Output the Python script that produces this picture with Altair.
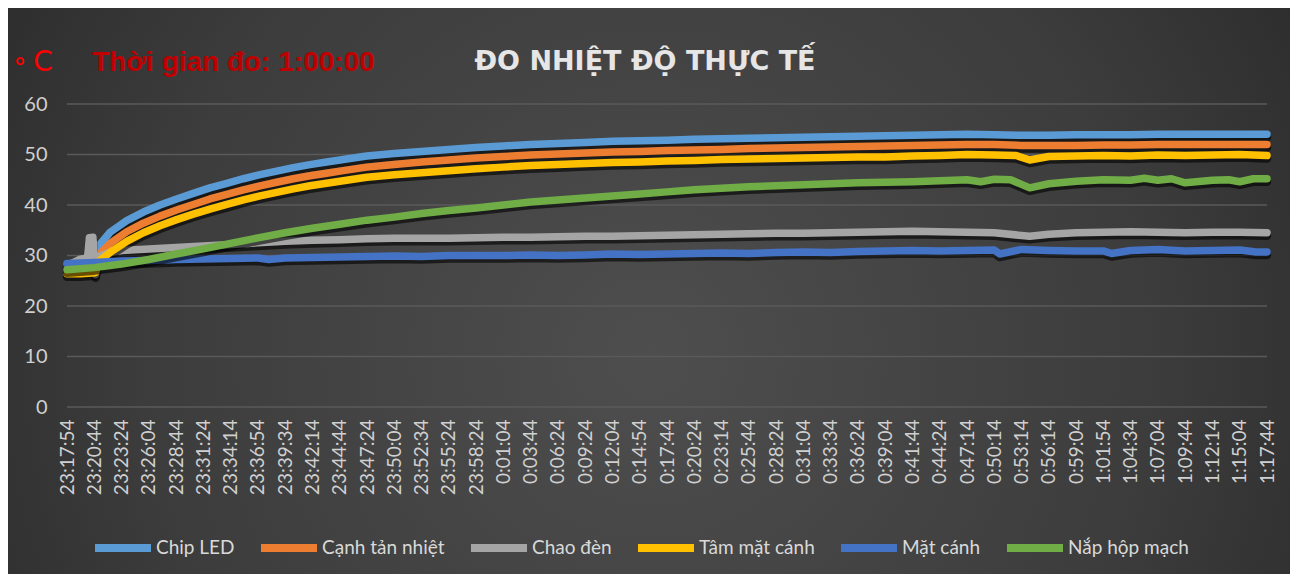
import altair as alt
import pandas as pd

TIME_LABELS = [
    "23:17:54", "23:20:44", "23:23:24", "23:26:04", "23:28:44", "23:31:24", "23:34:14",
    "23:36:54", "23:39:34", "23:42:14", "23:44:44", "23:47:24", "23:50:04", "23:52:34",
    "23:55:24", "23:58:24", "0:01:04", "0:03:44", "0:06:24", "0:09:24", "0:12:04",
    "0:14:54", "0:17:44", "0:20:24", "0:23:14", "0:25:44", "0:28:24", "0:31:04",
    "0:33:34", "0:36:24", "0:39:04", "0:41:44", "0:44:24", "0:47:14", "0:50:14",
    "0:53:14", "0:56:14", "0:59:04", "1:01:54", "1:04:34", "1:07:04", "1:09:44",
    "1:12:14", "1:15:04", "1:17:44",
]
Y_TICKS = [0, 10, 20, 30, 40, 50, 60]

SERIES = ["Chip LED", "Cạnh tản nhiệt", "Chao đèn", "Tâm mặt cánh", "Mặt cánh", "Nắp hộp mạch"]
COLORS = ["#5B9BD5", "#ED7D31", "#A5A5A5", "#FFC000", "#4472C4", "#70AD47"]

TAIL_X = list(range(11, 45))

chip_x = [0, 1, 1.15, 1.27, 1.58, 2.19, 2.8, 3.41, 4.02, 4.63, 5.24, 5.86, 6.47, 7.08,
          7.69, 8.3, 8.91, 9.52, 10.13, 10.74] + TAIL_X
chip_y = [27.8, 27.8, 31.8, 32.6, 34.6, 36.9, 38.6, 40.0, 41.2, 42.3, 43.4, 44.3, 45.2, 46.0,
          46.7, 47.4, 48.0, 48.5, 49.0, 49.5,
          49.7, 50.2, 50.6, 51.0, 51.4, 51.7, 52.0, 52.2, 52.4, 52.6, 52.7, 52.8, 53.0, 53.1,
          53.2, 53.3, 53.4, 53.5, 53.6, 53.7, 53.8, 53.9, 54.0, 53.9, 53.8, 53.8, 53.9, 53.9,
          53.9, 54.0, 54.0, 54.0, 54.0, 54.0]

canh_x = [0, 1, 1.2, 1.58, 2.19, 2.8, 3.41, 4.02, 4.63, 5.24, 5.86, 6.47, 7.08,
          7.69, 8.3, 8.91, 9.52, 10.13, 10.74] + TAIL_X
canh_y = [27.3, 27.3, 30.3, 32.4, 34.7, 36.4, 37.8, 39.0, 40.1, 41.2, 42.1, 43.0, 43.8,
          44.5, 45.2, 45.8, 46.3, 46.8, 47.3,
          47.5, 48.0, 48.5, 48.9, 49.3, 49.6, 49.9, 50.1, 50.3, 50.5, 50.6, 50.8, 50.9, 51.0,
          51.2, 51.3, 51.4, 51.5, 51.6, 51.7, 51.8, 51.9, 52.0, 52.0, 51.8, 51.8, 51.8, 51.9,
          51.9, 52.0, 52.0, 52.0, 52.0, 52.0]

chao_x = [0, 0.45, 0.75, 0.82, 0.95, 1.05, 1.15, 1.5, 2, 3, 4, 5, 6, 7, 8, 9, 10, 11, 12,
          13, 14, 15, 16, 17, 18, 19, 20, 21, 22, 23, 24, 25, 26, 27, 28, 29, 30, 31, 32,
          33, 34, 35.3, 36, 37, 38, 39, 40, 41, 42, 43, 44]
chao_y = [28.0, 29.2, 29.5, 33.5, 33.6, 26.2, 29.8, 30.5, 31.0, 31.3, 31.6, 31.9, 32.2,
          32.5, 32.8, 33.0, 33.1, 33.3, 33.4, 33.4, 33.4, 33.5, 33.6, 33.6, 33.7, 33.8,
          33.8, 33.9, 34.0, 34.1, 34.2, 34.3, 34.4, 34.4, 34.5, 34.6, 34.7, 34.8, 34.7,
          34.6, 34.5, 33.8, 34.2, 34.5, 34.6, 34.7, 34.6, 34.5, 34.6, 34.6, 34.5]

tam_x = [0, 0.5, 1.05, 1.2, 1.58, 2.19, 2.8, 3.41, 4.02, 4.63, 5.24, 5.86, 6.47, 7.08,
         7.69, 8.3, 8.91, 9.52, 10.13, 10.74, 11, 12, 13, 14, 15, 16, 17, 18, 19, 20, 21,
         22, 23, 24, 25, 26, 27, 28, 29, 30, 31, 32, 33, 34, 34.8, 35.3, 36, 37, 38, 39,
         40, 41, 42, 43, 44]
tam_y = [26.4, 26.4, 26.6, 29.0, 30.6, 32.8, 34.5, 35.9, 37.1, 38.2, 39.2, 40.1, 41.0,
         41.8, 42.5, 43.2, 43.8, 44.3, 44.8, 45.3, 45.5, 46.0, 46.4, 46.8, 47.2, 47.5,
         47.8, 48.0, 48.2, 48.4, 48.5, 48.7, 48.8, 49.0, 49.1, 49.2, 49.3, 49.4, 49.5,
         49.5, 49.7, 49.8, 50.0, 49.9, 49.8, 48.9, 49.6, 49.7, 49.8, 49.7, 49.9, 49.8,
         49.9, 50.0, 49.8]

mat_x = [0, 1, 2, 3, 4, 5, 6, 7, 7.4, 8, 9, 10, 11, 12, 13, 14, 15, 16, 17, 18, 19, 20,
         21, 22, 23, 24, 25, 26, 27, 28, 29, 30, 31, 32, 33, 34, 34.2, 35, 36, 37, 38,
         38.3, 39, 40, 41, 42, 43, 43.6, 44]
mat_y = [28.4, 28.6, 28.9, 29.0, 29.2, 29.3, 29.4, 29.5, 29.2, 29.5, 29.6, 29.7, 29.8,
         29.9, 29.8, 30.0, 30.0, 30.0, 30.1, 30.0, 30.1, 30.3, 30.2, 30.3, 30.4, 30.5,
         30.4, 30.6, 30.7, 30.6, 30.8, 30.9, 31.0, 30.9, 31.0, 31.1, 30.3, 31.2, 31.0,
         30.9, 30.9, 30.4, 31.0, 31.2, 30.9, 31.0, 31.1, 30.7, 30.7]

nap_x = [0, 1, 2, 3, 4, 5, 6, 7, 8, 9, 10, 11, 12, 13, 14, 15, 16, 17, 18, 19, 20, 21,
         22, 23, 24, 25, 26, 27, 28, 29, 30, 31, 32, 33, 33.5, 34, 34.6, 35.3, 36, 37,
         38, 39, 39.5, 40, 40.5, 41, 42, 42.6, 43, 43.5, 44]
nap_y = [27.2, 27.6, 28.3, 29.2, 30.3, 31.3, 32.4, 33.5, 34.5, 35.4, 36.2, 37.0, 37.6,
         38.3, 38.9, 39.4, 40.0, 40.6, 41.0, 41.4, 41.8, 42.2, 42.6, 43.0, 43.3, 43.6,
         43.8, 44.0, 44.2, 44.4, 44.5, 44.6, 44.8, 45.0, 44.6, 45.1, 45.0, 43.4, 44.2,
         44.7, 45.0, 44.9, 45.3, 44.9, 45.2, 44.4, 44.9, 45.0, 44.6, 45.2, 45.2]

SERIES_DATA = [(chip_x, chip_y), (canh_x, canh_y), (chao_x, chao_y),
               (tam_x, tam_y), (mat_x, mat_y), (nap_x, nap_y)]

rows = []
for name, (xs, ys) in zip(SERIES, SERIES_DATA):
    for xv, yv in zip(xs, ys):
        rows.append({"series": name, "x": xv, "v": yv})
df = pd.DataFrame(rows)
one = pd.DataFrame({"k": [0]})
grid_df = pd.DataFrame({"v": Y_TICKS})

W, H = 1200, 303
FONT = "Lato"
label_expr = "[" + ",".join("'%s'" % t for t in TIME_LABELS) + "][datum.value]"

x_scale = alt.Scale(domain=[0, 44], nice=False, zero=False)
x_axis = alt.Axis(values=list(range(45)), labelExpr=label_expr, labelAngle=270,
                  labelFont=FONT, labelFontSize=19, labelColor="#d0d0d0",
                  labelPadding=12, ticks=False, domain=False, grid=False, zindex=1,
                  title=None, labelOverlap=False, labelBound=False, labelFlush=False)
y_scale = alt.Scale(domain=[0, 60], nice=False, zero=True)
y_axis = alt.Axis(values=Y_TICKS, labelFont=FONT, zindex=1,
                  labelFontSize=20, labelColor="#d0d0d0", labelPadding=20,
                  ticks=False, domain=False, grid=False, title=None)
color_scale = alt.Scale(domain=SERIES, range=COLORS)

bg = alt.Chart(one).mark_rect(
    fill={"gradient": "radial", "x1": 0.5, "y1": 0.55, "r1": 0.0,
          "x2": 0.5, "y2": 0.55, "r2": 0.72,
          "stops": [{"offset": 0, "color": "#4e4e4e"},
                    {"offset": 0.55, "color": "#3c3c3c"},
                    {"offset": 1, "color": "#222222"}]}
).encode(x=alt.value(-59), x2=alt.value(1223), y=alt.value(-96), y2=alt.value(470))

grid = alt.Chart(grid_df).mark_rule(color="#5a5a5a", strokeWidth=1.4).encode(
    y=alt.Y("v:Q", scale=y_scale, axis=y_axis), x=alt.value(0), x2=alt.value(W))

layers = [bg, grid]
for i, name in enumerate(SERIES):
    sub = alt.Chart(df).transform_filter(alt.datum.series == name)
    shadow = sub.transform_calculate(vs="datum.v - 0.6").mark_line(
        strokeWidth=8.5, strokeCap="round", strokeJoin="round", opacity=0.6
    ).encode(x=alt.X("x:Q", scale=x_scale, axis=x_axis),
             y=alt.Y("vs:Q", scale=y_scale, axis=y_axis),
             color=alt.value("#000000"))
    line = sub.mark_line(strokeWidth=7.5, strokeCap="round", strokeJoin="round").encode(
        x=alt.X("x:Q", scale=x_scale, axis=x_axis),
        y=alt.Y("v:Q", scale=y_scale, axis=y_axis),
        color=alt.Color("series:N", scale=color_scale, sort=SERIES,
                        legend=alt.Legend(orient="none", legendX=24, legendY=412,
                                          direction="horizontal", columns=6, title=None,
                                          symbolType="stroke", symbolStrokeWidth=8,
                                          symbolSize=3136, labelFont=FONT,
                                          labelFontSize=19, labelColor="#d9d9d9",
                                          columnPadding=10, labelOffset=1,
                                          symbolOpacity=1)))
    layers += [shadow, line]

title = alt.Chart(one).mark_text(
    text="ĐO NHIỆT ĐỘ THỰC TẾ", font="DejaVu Sans", fontSize=27, fontWeight="bold",
    color="#e6e6e6", align="center", baseline="alphabetic"
).encode(x=alt.value(578), y=alt.value(-34))

dur = alt.Chart(one).mark_text(
    text="Thời gian đo: 1:00:00", font="Liberation Sans", fontSize=28, fontWeight="bold",
    color="#c00000", align="left", baseline="alphabetic"
).encode(x=alt.value(25), y=alt.value(-33))

unit = alt.Chart(one).mark_text(
    text="◦ C", font=FONT, fontSize=29, color="#ff0000", align="left", baseline="alphabetic"
).encode(x=alt.value(-53), y=alt.value(-33))

layers += [title, dur, unit]

chart = alt.layer(*layers).properties(
    width=W, height=H,
    padding={"left": 59, "top": 96, "right": 23, "bottom": 167},
    autosize=alt.AutoSizeParams(type="none"),
).configure_view(stroke=None).configure(background="#ffffff")

chart.save("out.html", embed_options={"renderer": "svg", "actions": False})
